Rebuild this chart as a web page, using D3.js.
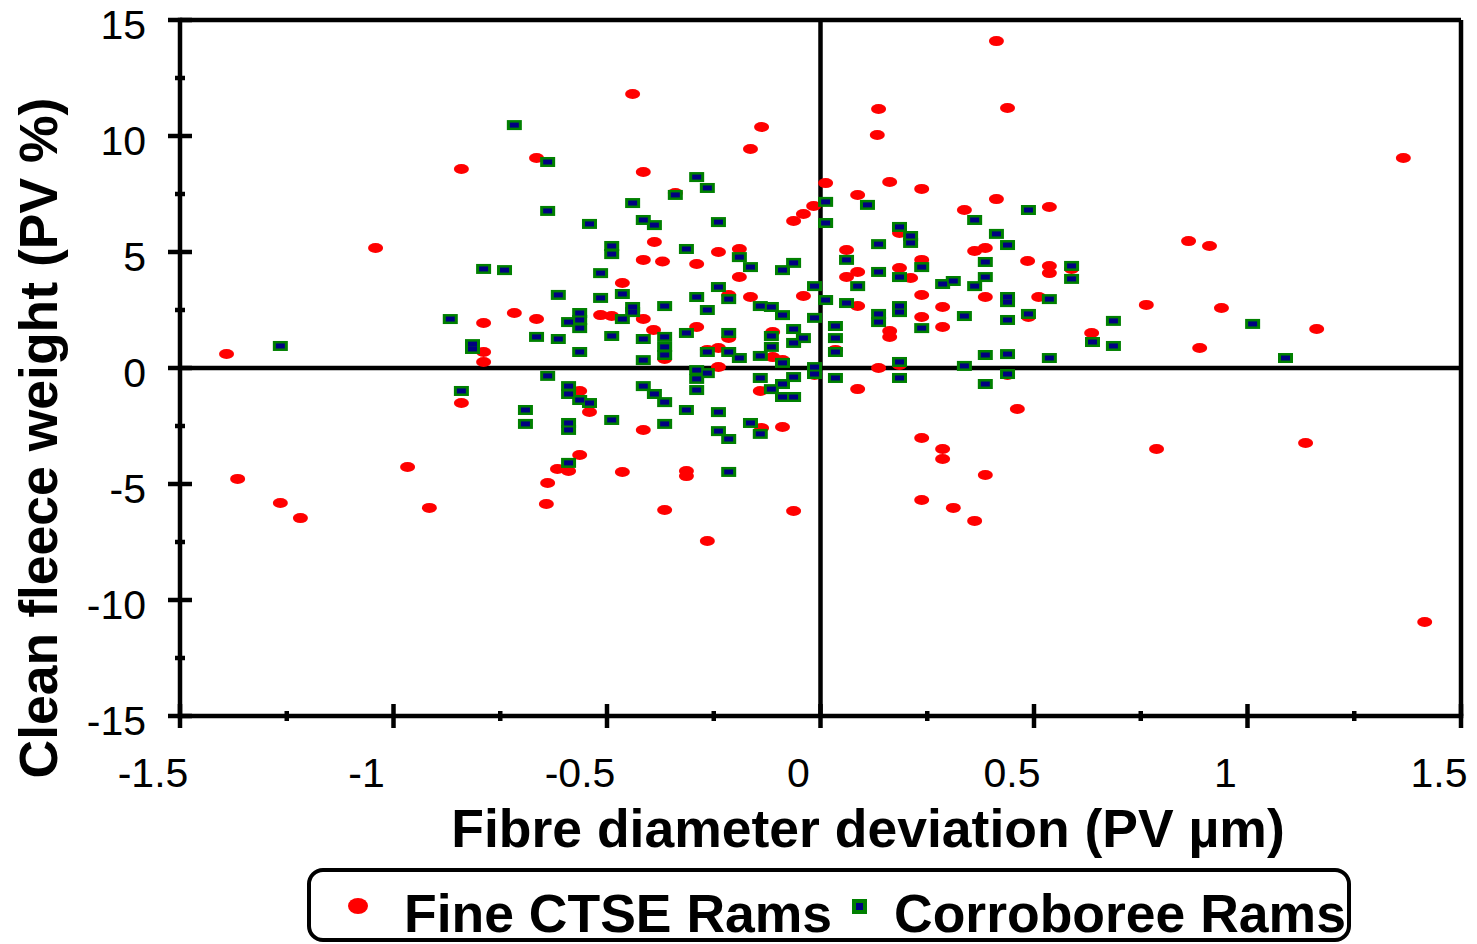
<!DOCTYPE html>
<html>
<head>
<meta charset="utf-8">
<script src="https://cdn.jsdelivr.net/npm/d3@7"></script>
<style>
  html, body { margin: 0; padding: 0; background: #fff; }
  svg { display: block; }
  text { font-family: "Liberation Sans", Arial, sans-serif; fill: #000; }
</style>
</head>
<body>
<svg id="chart" width="1477" height="944"></svg>
<script>
// ---------- DATA ----------
const seriesNames = ["Fine CTSE Rams", "Corroboree Rams"];

const fineX = [-1.391,-1.365,-1.265,-1.218,-1.042,-0.967,-0.916,-0.841,-0.841,-0.789,-0.789,-0.789,-0.717,-0.665,-0.665,-0.639,-0.642,-0.616,-0.590,-0.564,-0.541,-0.564,-0.515,-0.489,-0.464,-0.464,-0.440,-0.415,-0.415,-0.415,-0.415,-0.389,-0.391,-0.370,-0.365,-0.365,-0.340,-0.314,-0.314,-0.290,-0.290,-0.265,-0.239,-0.265,-0.239,-0.239,-0.215,-0.215,-0.190,-0.190,-0.164,-0.164,-0.138,-0.141,-0.138,-0.112,-0.112,-0.089,-0.089,-0.063,-0.063,-0.040,-0.040,-0.016,-0.014,0.012,0.035,0.061,0.061,0.087,0.087,0.087,0.087,0.133,0.136,0.136,0.162,0.162,0.162,0.185,0.185,0.185,0.211,0.237,0.237,0.237,0.237,0.237,0.237,0.286,0.286,0.286,0.286,0.311,0.337,0.361,0.361,0.386,0.386,0.386,0.412,0.412,0.438,0.438,0.461,0.485,0.487,0.511,0.536,0.536,0.536,0.588,0.635,0.763,0.787,0.862,0.888,0.911,0.939,1.136,1.162,1.365,1.415];
const fineY = [0.60,-4.78,-5.82,-6.47,5.17,-4.27,-6.03,8.58,-1.51,1.94,0.69,0.26,2.37,9.05,2.11,-4.96,-5.86,-4.35,-4.44,-0.99,-1.90,-3.75,2.28,2.24,3.66,-4.48,11.81,8.45,4.66,2.11,-2.67,5.43,1.64,4.59,0.39,-6.12,7.54,-4.44,-4.66,4.48,1.77,0.78,0.86,-7.46,5.00,0.04,3.15,1.29,5.13,3.92,9.44,3.06,10.39,-0.99,-2.59,1.55,0.47,0.34,-2.54,6.34,-6.16,6.64,3.10,6.98,-0.30,7.97,0.78,5.09,3.92,7.46,4.14,2.67,-0.91,10.04,11.16,0.00,8.02,1.59,1.34,5.82,4.31,0.13,3.88,7.72,4.66,3.15,2.20,-3.02,-5.69,2.63,1.77,-3.49,-3.92,-6.03,6.81,5.04,-6.59,5.17,3.06,-4.61,7.28,14.09,11.21,-0.30,-1.77,4.61,2.20,3.06,6.94,4.40,4.09,4.27,1.51,2.72,-3.49,5.47,0.86,5.26,2.59,-3.23,1.68,9.05,-10.95];

const corrX = [-1.265,-0.867,-0.841,-0.815,-0.815,-0.789,-0.740,-0.717,-0.691,-0.691,-0.665,-0.639,-0.639,-0.639,-0.614,-0.614,-0.590,-0.590,-0.590,-0.590,-0.590,-0.564,-0.564,-0.590,-0.564,-0.564,-0.564,-0.541,-0.541,-0.515,-0.515,-0.489,-0.489,-0.489,-0.489,-0.464,-0.464,-0.440,-0.440,-0.440,-0.415,-0.415,-0.415,-0.415,-0.389,-0.389,-0.365,-0.365,-0.365,-0.365,-0.365,-0.365,-0.340,-0.314,-0.314,-0.314,-0.290,-0.290,-0.290,-0.290,-0.290,-0.265,-0.265,-0.265,-0.265,-0.239,-0.239,-0.239,-0.239,-0.215,-0.215,-0.215,-0.215,-0.215,-0.190,-0.190,-0.164,-0.164,-0.141,-0.141,-0.141,-0.141,-0.115,-0.115,-0.115,-0.115,-0.089,-0.089,-0.089,-0.089,-0.089,-0.063,-0.063,-0.063,-0.063,-0.063,-0.040,-0.014,-0.014,-0.014,-0.014,0.012,0.012,0.012,0.035,0.035,0.035,0.035,0.061,0.061,0.087,0.110,0.136,0.136,0.136,0.136,0.185,0.185,0.185,0.185,0.185,0.185,0.211,0.211,0.237,0.237,0.286,0.311,0.337,0.337,0.361,0.361,0.386,0.386,0.386,0.386,0.412,0.438,0.438,0.438,0.438,0.438,0.438,0.487,0.487,0.536,0.536,0.588,0.588,0.637,0.686,0.686,1.012,1.089];
const corrY = [0.95,2.11,-0.99,1.03,0.82,4.27,4.22,10.47,-1.81,-2.41,1.34,8.88,6.77,-0.34,3.15,1.25,-0.78,-1.12,-2.37,-2.67,-4.09,2.37,2.07,1.98,1.72,0.69,-1.38,6.21,-1.51,4.09,3.02,5.26,4.91,1.38,-2.24,3.19,2.11,7.11,2.63,2.41,6.38,1.25,0.34,-0.78,6.16,-1.12,2.67,1.34,0.91,0.56,-1.47,-2.41,7.46,5.13,1.51,-1.81,8.23,3.06,-0.09,-0.47,-0.95,7.76,2.50,0.69,-0.22,6.29,3.49,-1.90,-2.72,2.97,1.51,0.69,-3.06,-4.48,4.78,0.43,4.35,-2.37,2.67,0.52,-0.43,-2.84,2.63,1.38,0.91,-0.91,4.22,2.28,0.22,-0.69,-1.25,4.53,1.68,1.08,-0.39,-1.25,1.29,3.53,2.16,0.04,-0.26,7.16,6.25,2.93,1.81,1.29,0.69,-0.43,4.66,2.80,3.53,7.03,5.34,4.14,2.33,1.98,6.08,3.92,2.67,2.41,0.26,-0.43,5.69,5.39,4.35,1.72,3.62,3.75,2.24,0.09,6.38,3.53,4.57,3.92,0.56,-0.69,5.78,5.30,3.06,2.84,2.07,0.60,-0.26,6.81,2.33,2.97,0.43,4.40,3.84,1.12,2.03,0.95,1.90,0.43];

const xMajorTicks = [-1.5,-1,-0.5,0,0.5,1,1.5];
const xTickLabels = ["-1.5","-1","-0.5","0","0.5","1","1.5"];
const xMinorTicks = [-1.25,-0.75,-0.25,0.25,0.75,1.25];
const yMajorTicks = [-15,-10,-5,0,5,10,15];
const yTickLabels = ["-15","-10","-5","0","5","10","15"];
const yMinorTicks = [-12.5,-7.5,-2.5,2.5,7.5,12.5];

const xTitle = "Fibre diameter deviation (PV µm)";
const yTitle = "Clean fleece weight (PV %)";

// ---------- CHART ----------
const svg = d3.select("#chart");
const x = d3.scaleLinear().domain([-1.5, 1.5]).range([180, 1461]);
const y = d3.scaleLinear().domain([-15, 15]).range([716, 20]);
const LW = 4.5;
const TICKFS = 41;
const TITLEFS = 53.5;

const fine = fineX.map((v, i) => ({x: v, y: fineY[i]}));
const corr = corrX.map((v, i) => ({x: v, y: corrY[i]}));

// frame (top + right)
svg.append("line").attr("x1", x(-1.5)).attr("x2", x(1.5)).attr("y1", y(15)).attr("y2", y(15))
  .attr("stroke", "#000").attr("stroke-width", LW);
svg.append("line").attr("x1", x(1.5)).attr("x2", x(1.5)).attr("y1", y(15)).attr("y2", y(-15))
  .attr("stroke", "#000").attr("stroke-width", LW);

// zero lines
svg.append("line").attr("x1", x(-1.5)).attr("x2", x(1.5)).attr("y1", y(0)).attr("y2", y(0))
  .attr("stroke", "#000").attr("stroke-width", LW);
svg.append("line").attr("x1", x(0)).attr("x2", x(0)).attr("y1", y(15)).attr("y2", y(-15))
  .attr("stroke", "#000").attr("stroke-width", LW);

// axes lines
svg.append("line").attr("x1", x(-1.5)).attr("x2", x(-1.5)).attr("y1", y(15) - LW/2).attr("y2", y(-15) + LW/2)
  .attr("stroke", "#000").attr("stroke-width", LW);
svg.append("line").attr("x1", x(-1.5) - LW/2).attr("x2", x(1.5) + LW/2).attr("y1", y(-15)).attr("y2", y(-15))
  .attr("stroke", "#000").attr("stroke-width", LW);

// y ticks
svg.selectAll(".ymaj").data(yMajorTicks).join("line")
  .attr("x1", x(-1.5) - 12).attr("x2", x(-1.5) + 12)
  .attr("y1", d => y(d)).attr("y2", d => y(d))
  .attr("stroke", "#000").attr("stroke-width", LW);
svg.selectAll(".ymin").data(yMinorTicks).join("line")
  .attr("x1", x(-1.5) - 5).attr("x2", x(-1.5) + 5)
  .attr("y1", d => y(d)).attr("y2", d => y(d))
  .attr("stroke", "#000").attr("stroke-width", LW);
svg.selectAll(".ylab").data(yMajorTicks).join("text")
  .attr("x", 146).attr("y", d => y(d) + 19)
  .attr("text-anchor", "end").attr("font-size", TICKFS)
  .text((d, i) => yTickLabels[i]);

// x ticks
svg.selectAll(".xmaj").data(xMajorTicks).join("line")
  .attr("x1", d => x(d)).attr("x2", d => x(d))
  .attr("y1", y(-15) - 12).attr("y2", y(-15) + 12)
  .attr("stroke", "#000").attr("stroke-width", LW);
svg.selectAll(".xmin").data(xMinorTicks).join("line")
  .attr("x1", d => x(d)).attr("x2", d => x(d))
  .attr("y1", y(-15) - 5).attr("y2", y(-15) + 5)
  .attr("stroke", "#000").attr("stroke-width", LW);
svg.selectAll(".xlab").data(xMajorTicks).join("text")
  .attr("x", d => x(d) - (d < 0 ? 27 : 22)).attr("y", 787)
  .attr("text-anchor", "middle").attr("font-size", TICKFS)
  .text((d, i) => xTickLabels[i]);

// axis titles
svg.append("text").attr("x", 868).attr("y", 847)
  .attr("text-anchor", "middle").attr("font-size", TITLEFS).attr("font-weight", "bold")
  .text(xTitle);
svg.append("text").attr("transform", "translate(57,438) rotate(-90)")
  .attr("text-anchor", "middle").attr("font-size", TITLEFS).attr("font-weight", "bold")
  .text(yTitle);

// points: Fine CTSE (red ellipses)
svg.append("g").selectAll("ellipse").data(fine).join("ellipse")
  .attr("cx", d => x(d.x)).attr("cy", d => y(d.y))
  .attr("rx", 7.5).attr("ry", 5).attr("fill", "#ff0000");

// points: Corroboree (green box w/ navy centre)
const cg = svg.append("g");
cg.selectAll("rect.o").data(corr).join("rect").attr("class", "o")
  .attr("x", d => x(d.x) - 7.5).attr("y", d => y(d.y) - 5)
  .attr("width", 15).attr("height", 10).attr("fill", "#008000");
cg.selectAll("rect.i").data(corr).join("rect").attr("class", "i")
  .attr("x", d => x(d.x) - 4.5).attr("y", d => y(d.y) - 2.5)
  .attr("width", 9).attr("height", 5).attr("fill", "#000080");

// legend
const lg = svg.append("g");
lg.append("rect").attr("x", 309).attr("y", 870).attr("width", 1040).attr("height", 70)
  .attr("rx", 14).attr("ry", 14).attr("fill", "#fff").attr("stroke", "#000").attr("stroke-width", 4);
lg.append("ellipse").attr("cx", 358).attr("cy", 906).attr("rx", 10).attr("ry", 8).attr("fill", "#ff0000");
lg.append("text").attr("x", 404).attr("y", 932).attr("font-size", TITLEFS).attr("font-weight", "bold").text(seriesNames[0]);
lg.append("rect").attr("x", 852).attr("y", 899).attr("width", 15).attr("height", 15).attr("fill", "#008000");
lg.append("rect").attr("x", 856).attr("y", 903).attr("width", 7).attr("height", 7).attr("fill", "#000080");
lg.append("text").attr("x", 894).attr("y", 932).attr("font-size", TITLEFS).attr("font-weight", "bold").text(seriesNames[1]);
</script>
</body>
</html>
